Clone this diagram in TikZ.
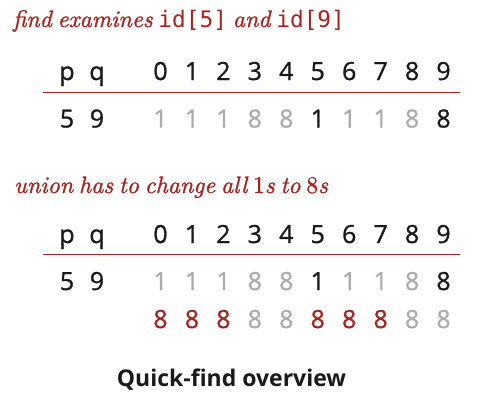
\documentclass[tikz,border=0pt]{standalone}
\usepackage{fontspec}
\newfontfamily\tabfont{Open Sans}[FakeBold=1]
\newfontfamily\codefont{DejaVu Sans Mono}
\newfontfamily\capfont{Open Sans}
\newfontfamily\titlefont{lmroman10-italic.otf}[FakeBold=1.2,WordSpace=0.68]
\newfontfamily\titledigits{lmroman10-regular.otf}[FakeBold=1.2]
\definecolor{bred}{RGB}{166,36,32}
\definecolor{lgray}{RGB}{172,172,172}
\definecolor{ink}{RGB}{26,26,26}
\newcommand\codetxt[1]{{\codefont\fontsize{22.8}{26}\selectfont #1}}
\newcommand\updig[1]{{\titledigits #1}}
\begin{document}
\begin{tikzpicture}[x=1pt,y=-1pt,
  cellk/.style={inner sep=0pt,anchor=base,font=\tabfont\fontsize{25}{30}\selectfont,text=ink},
  cellg/.style={cellk,text=lgray},
  cellr/.style={cellk,text=bred},
  titletxt/.style={inner sep=0pt,anchor=base west,text=bred,font=\titlefont\fontsize{23.8}{28}\selectfont},
  redrule/.style={draw=bred,line width=1.3pt},
  captxt/.style={inner sep=0pt,anchor=base,text=ink,font=\capfont\bfseries\fontsize{23}{28}\selectfont}]
\useasboundingbox (0,0) rectangle (477,413);
% block 1
\node[titletxt] (t1) at (12.7,27) {find examines \codetxt{id[5]} and \codetxt{id[9]}};
\node[cellk] (hp1) at (67,80) {p};
\node[cellk] (hq1) at (97,80) {q};
\foreach \i in {0,...,9} \node[cellk] (ha\i) at (160.5+31.45*\i,80) {\i};
\coordinate (l1a) at (43,92.3);
\coordinate (l1b) at (460,92.3);
\draw[redrule] (l1a) -- (l1b);
\node[cellk] (vp1) at (67,127.5) {5};
\node[cellk] (vq1) at (97,127.5) {9};
\foreach \v/\s [count=\i from 0] in {1/cellg,1/cellg,1/cellg,8/cellg,8/cellg,1/cellk,1/cellg,1/cellg,8/cellg,8/cellk}
  \node[\s] (ra\i) at (160.5+31.45*\i,127.5) {\v};
% block 2
\node[titletxt] (t2) at (14,193) {union has to change all \updig{1}s to \updig{8}s};
\node[cellk] (hp2) at (67,243) {p};
\node[cellk] (hq2) at (97,243) {q};
\foreach \i in {0,...,9} \node[cellk] (hb\i) at (160.5+31.45*\i,243) {\i};
\coordinate (l2a) at (43,254.3);
\coordinate (l2b) at (460,254.3);
\draw[redrule] (l2a) -- (l2b);
\node[cellk] (vp2) at (67,290) {5};
\node[cellk] (vq2) at (97,290) {9};
\foreach \v/\s [count=\i from 0] in {1/cellg,1/cellg,1/cellg,8/cellg,8/cellg,1/cellk,1/cellg,1/cellg,8/cellg,8/cellk}
  \node[\s] (rb\i) at (160.5+31.45*\i,290) {\v};
\foreach \s [count=\i from 0] in {cellr,cellr,cellr,cellg,cellg,cellr,cellr,cellr,cellg,cellg}
  \node[\s] (rc\i) at (160.5+31.45*\i,328) {8};
% caption
\node[captxt] (cap) at (231.5,386.7) {Quick-find overview};
\end{tikzpicture}
\end{document}
